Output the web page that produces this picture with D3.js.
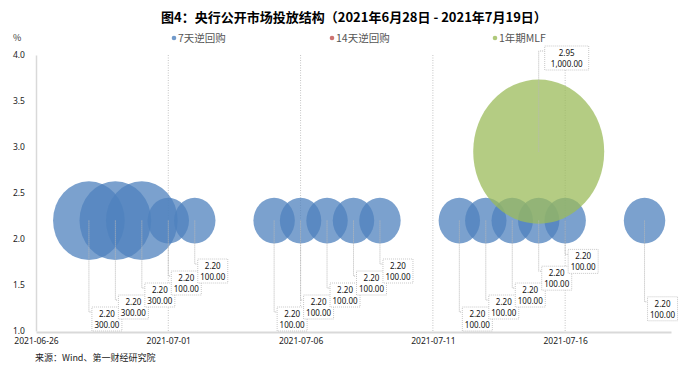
<!DOCTYPE html>
<html>
<head>
<meta charset="utf-8">
<script src="https://cdn.jsdelivr.net/npm/d3@7/dist/d3.min.js"></script>
<style>
  body { margin: 0; background: #fff; }
  svg { display: block; font-family: "Noto Sans CJK SC", "Noto Sans", sans-serif; }
</style>
</head>
<body>
<div id="chart"></div>
<script>
// 7天逆回购: date, rate (%), amount (亿元)
const repo7Dates = ["2021-06-28", "2021-06-29", "2021-06-30", "2021-07-01", "2021-07-02",
  "2021-07-05", "2021-07-06", "2021-07-07", "2021-07-08", "2021-07-09",
  "2021-07-12", "2021-07-13", "2021-07-14", "2021-07-15", "2021-07-16", "2021-07-19"]
const repo7Rates = [2.2, 2.2, 2.2, 2.2, 2.2, 2.2, 2.2, 2.2, 2.2, 2.2, 2.2, 2.2, 2.2, 2.2, 2.2, 2.2]
const repo7Amounts = [300, 300, 300, 100, 100, 100, 100, 100, 100, 100, 100, 100, 100, 100, 100, 100]

// 14天逆回购: none in this period
const repo14Dates = []
const repo14Rates = []
const repo14Amounts = []

// 1年期MLF
const mlfDates = ["2021-07-15"]
const mlfRates = [2.95]
const mlfAmounts = [1000]

const yTicks = [1.0, 1.5, 2.0, 2.5, 3.0, 3.5, 4.0]
const xTicks = ["2021-06-26", "2021-07-01", "2021-07-06", "2021-07-11", "2021-07-16"]

// how far each 7-day label box is pushed up (in steps)
const labelLift = [0, 1, 2, 3, 4, 0, 1, 2, 3, 4, 0, 1, 2, 3.4, 4.8, 0.85]

const width = 691
const height = 372
const parse = d3.timeParse("%Y-%m-%d")
const fmtRate = d3.format(".2f")
const fmtAmt = d3.format(",.2f")

const svg = d3.select("#chart").append("svg")
  .attr("width", width)
  .attr("height", height)

const x = d3.scaleTime()
  .domain([parse("2021-06-26"), parse("2021-07-20")])
  .range([36, 671])

const y = d3.scaleLinear()
  .domain([1, 4])
  .range([331, 55])

const rx = d3.scaleSqrt().domain([0, 1000]).range([0, 65.5])
const ryRatio = 1.1

const series = [
  { name: "7天逆回购", color: "#4f81bd", dates: repo7Dates, rates: repo7Rates, amounts: repo7Amounts },
  { name: "14天逆回购", color: "#c0504d", dates: repo14Dates, rates: repo14Rates, amounts: repo14Amounts },
  { name: "1年期MLF", color: "#9bbb59", dates: mlfDates, rates: mlfRates, amounts: mlfAmounts }
]
series.forEach(s => {
  s.points = s.dates.map((d, i) => ({ date: parse(d), rate: s.rates[i], amount: s.amounts[i], i }))
})

// title
svg.append("text")
  .attr("x", 354)
  .attr("y", 22)
  .attr("text-anchor", "middle")
  .style("font-size", "13px")
  .style("font-weight", "bold")
  .attr("fill", "#000")
  .text("图4：央行公开市场投放结构（2021年6月28日 - 2021年7月19日）")

// unit
svg.append("text")
  .attr("x", 13)
  .attr("y", 41)
  .style("font-size", "9px")
  .attr("fill", "#333")
  .text("%")

// legend
const legendX = [174, 332, 495]
series.forEach((s, i) => {
  svg.append("circle")
    .attr("cx", legendX[i])
    .attr("cy", 38)
    .attr("r", 2.3)
    .attr("fill", s.color)
    .attr("opacity", 0.8)
  svg.append("text")
    .attr("x", legendX[i] + 4)
    .attr("y", 42)
    .style("font-size", "10.5px")
    .attr("fill", "#555")
    .text(s.name)
})

// vertical gridlines
svg.append("g")
  .selectAll("line")
  .data(xTicks.slice(1))
  .join("line")
    .attr("x1", d => x(parse(d)))
    .attr("x2", d => x(parse(d)))
    .attr("y1", y(4))
    .attr("y2", y(1))
    .attr("stroke", "#c4c4c4")
    .attr("stroke-dasharray", "1,1.5")

// y axis
const yAxis = svg.append("g")
  .attr("transform", `translate(36,0)`)
  .call(d3.axisLeft(y).tickValues(yTicks).tickFormat(d3.format(".1f")).tickSize(0).tickPadding(11))
yAxis.select(".domain").attr("stroke", "#d9d9d9").attr("stroke-width", 1.5)
yAxis.selectAll("text")
  .style("font-size", "8.5px")
  .style("font-family", "\"Noto Sans\", sans-serif")
  .attr("fill", "#222")

// x axis
const xAxis = svg.append("g")
  .attr("transform", `translate(0,${y(1) + 1})`)
  .call(d3.axisBottom(x).tickValues(xTicks.map(parse)).tickFormat(d3.timeFormat("%Y-%m-%d")).tickSize(0).tickPadding(6))
xAxis.select(".domain").attr("stroke", "#d9d9d9").attr("stroke-width", 2)
xAxis.selectAll("text")
  .style("font-size", "8.5px")
  .style("font-family", "\"Noto Sans\", sans-serif")
  .attr("fill", "#222")

// bubbles
const bubbleG = svg.append("g")
series.forEach(s => {
  bubbleG.append("g")
    .selectAll("ellipse")
    .data(s.points)
    .join("ellipse")
      .attr("cx", d => x(d.date))
      .attr("cy", d => y(d.rate))
      .attr("rx", d => rx(d.amount))
      .attr("ry", d => rx(d.amount) * ryRatio)
      .attr("fill", s.color)
      .attr("fill-opacity", 0.75)
})

// data labels with leader lines
const labelG = svg.append("g")
const boxH = 24
function drawLabel(cx, cy, left, top, w, lines) {
  const ly = top + 5
  labelG.append("path")
    .attr("d", `M${cx},${cy}V${ly}H${left}`)
    .attr("fill", "none")
    .attr("stroke", "#b8b8b8")
    .attr("stroke-dasharray", "1,1")
  labelG.append("rect")
    .attr("x", left)
    .attr("y", top)
    .attr("width", w)
    .attr("height", boxH)
    .attr("fill", "#fff")
    .attr("stroke", "#c8c8c8")
    .attr("stroke-dasharray", "1,1")
  lines.forEach((t, k) => {
    labelG.append("text")
      .attr("x", left + w / 2)
      .attr("y", top + 10 + k * 11)
      .attr("text-anchor", "middle")
      .style("font-size", "8px")
      .style("font-family", "\"Noto Sans\", sans-serif")
      .attr("fill", "#111")
      .text(t)
  })
}

series[0].points.forEach(d => {
  const cx = x(d.date)
  const cy = y(d.rate)
  const top = 307 - 12 * labelLift[d.i]
  drawLabel(cx, cy, cx + 3, top, 30, [fmtRate(d.rate), fmtAmt(d.amount)])
})
series[2].points.forEach(d => {
  const cx = x(d.date)
  const cy = y(d.rate)
  drawLabel(cx, cy, cx + 6, 46, 44, [fmtRate(d.rate), fmtAmt(d.amount)])
})

// source
svg.append("text")
  .attr("x", 35)
  .attr("y", 361)
  .style("font-size", "9px")
  .attr("fill", "#222")
  .text("来源：Wind、第一财经研究院")
</script>
</body>
</html>
